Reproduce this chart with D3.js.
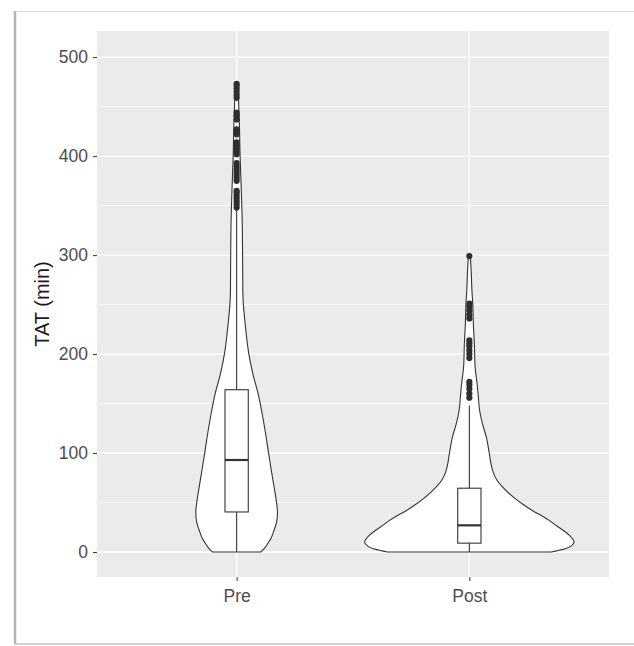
<!DOCTYPE html>
<meta charset="utf-8">
<style>
body { margin: 0; background: #fff; }
text { font-family: "Liberation Sans", Arial, sans-serif; }
</style>
<svg id="thevis" width="634" height="646"></svg>
<script src="https://cdn.jsdelivr.net/npm/d3@7/dist/d3.min.js"></script>
<script>
// violin + boxplot of turnaround time, pre vs post
var categories = ["Pre", "Post"];
var yTicks = [0, 100, 200, 300, 400, 500];
var yMinor = [50, 150, 250, 350, 450];

// density outlines (TAT value, relative density)
var preTAT     = [0, 4, 9, 15, 22, 30, 40, 50, 60, 75, 100, 120, 143, 160, 180, 201, 230, 254, 280, 310, 340, 370, 400, 430, 455, 473];
var preDensity = [0.229, 0.267, 0.300, 0.333, 0.357, 0.381, 0.390, 0.381, 0.367, 0.343, 0.305, 0.276, 0.238, 0.205, 0.155, 0.115, 0.082, 0.062, 0.058, 0.056, 0.052, 0.043, 0.033, 0.027, 0.019, 0.010];
var postTAT     = [0, 3, 6, 10, 14, 18, 22, 26, 32, 37, 42, 48, 54, 60, 66, 72, 80, 90, 100, 116, 130, 143, 160, 171, 187, 210, 231, 250, 265, 280, 299];
var postDensity = [0.781, 0.905, 0.971, 1.0, 0.981, 0.943, 0.895, 0.838, 0.762, 0.686, 0.600, 0.514, 0.438, 0.371, 0.314, 0.267, 0.229, 0.205, 0.190, 0.162, 0.124, 0.098, 0.083, 0.073, 0.055, 0.048, 0.038, 0.033, 0.024, 0.019, 0.010];

// box stats: [lower whisker, Q1, median, Q3, upper whisker]
var preBox  = [0, 40.5, 93, 164, 349];
var postBox = [0, 9, 27, 64.5, 148];

var preOutliers  = [348, 351, 354, 357, 360, 363, 365, 375, 378, 381, 384, 387, 390, 393, 402, 405, 408, 411, 414, 422, 425, 427, 437, 441, 444, 459, 462, 465, 468, 471, 473];
var postOutliers = [156, 160, 165, 169, 172, 196, 200, 204, 208, 211, 214, 236, 240, 244, 248, 251, 299];

var groups = [
  {name: categories[0], tat: preTAT, dens: preDensity, box: preBox, out: preOutliers},
  {name: categories[1], tat: postTAT, dens: postDensity, box: postBox, out: postOutliers}
];

var svg = d3.select("svg");

// picture frame (screenshot card)
svg.append("rect")
    .attr("x", 14.5).attr("y", 11.5)
    .attr("width", 624).attr("height", 632.5)
    .attr("fill", "#fff")
    .attr("stroke", "#dcdcdc");
svg.append("line")
    .attr("x1", 15).attr("x2", 15).attr("y1", 11).attr("y2", 644)
    .attr("stroke", "#b5b5b5").attr("stroke-width", 2.5);
svg.append("line")
    .attr("x1", 14).attr("x2", 634).attr("y1", 644).attr("y2", 644)
    .attr("stroke", "#c8c8c8").attr("stroke-width", 1.5);

var panel = {left: 97, right: 609, top: 31, bottom: 577};

var x = d3.scalePoint()
    .domain(categories)
    .range([panel.left, panel.right])
    .padding(0.6);

var y = d3.scaleLinear()
    .domain([-25.2, 526.4])
    .range([panel.bottom, panel.top]);

var halfWidth = d3.scaleLinear().domain([0, 1]).range([0, 0.45 * x.step()]);
var boxHalf = 0.05 * x.step();

// panel background and grid
svg.append("rect")
    .attr("x", panel.left).attr("y", panel.top)
    .attr("width", panel.right - panel.left).attr("height", panel.bottom - panel.top)
    .attr("fill", "#ebebeb");

svg.append("g").selectAll("line")
    .data(yMinor)
  .enter().append("line")
    .attr("x1", panel.left).attr("x2", panel.right)
    .attr("y1", function(d) { return y(d); }).attr("y2", function(d) { return y(d); })
    .attr("stroke", "#fff").attr("stroke-width", 0.7);

svg.append("g").selectAll("line")
    .data(yTicks)
  .enter().append("line")
    .attr("x1", panel.left).attr("x2", panel.right)
    .attr("y1", function(d) { return y(d); }).attr("y2", function(d) { return y(d); })
    .attr("stroke", "#fff").attr("stroke-width", 1.4);

svg.append("g").selectAll("line")
    .data(categories)
  .enter().append("line")
    .attr("x1", function(d) { return x(d); }).attr("x2", function(d) { return x(d); })
    .attr("y1", panel.top).attr("y2", panel.bottom)
    .attr("stroke", "#fff").attr("stroke-width", 1.4);

// violins
var g = svg.append("g").selectAll("g")
    .data(groups)
  .enter().append("g");

g.append("path")
    .attr("d", function(grp) {
      var pts = grp.tat.map(function(v, i) { return {v: v, d: grp.dens[i]}; });
      var cx = x(grp.name);
      return d3.area()
          .y(function(p) { return y(p.v); })
          .x0(function(p) { return cx - halfWidth(p.d); })
          .x1(function(p) { return cx + halfWidth(p.d); })
          .curve(d3.curveCatmullRom.alpha(0.5))(pts);
    })
    .attr("fill", "#fff")
    .attr("stroke", "#333")
    .attr("stroke-width", 1.1);

// whiskers
g.append("line")
    .attr("x1", function(grp) { return x(grp.name); }).attr("x2", function(grp) { return x(grp.name); })
    .attr("y1", function(grp) { return y(grp.box[3]); }).attr("y2", function(grp) { return y(grp.box[4]); })
    .attr("stroke", "#333").attr("stroke-width", 1.1);
g.append("line")
    .attr("x1", function(grp) { return x(grp.name); }).attr("x2", function(grp) { return x(grp.name); })
    .attr("y1", function(grp) { return y(grp.box[0]); }).attr("y2", function(grp) { return y(grp.box[1]); })
    .attr("stroke", "#333").attr("stroke-width", 1.1);

// boxes
g.append("rect")
    .attr("x", function(grp) { return x(grp.name) - boxHalf; })
    .attr("width", 2 * boxHalf)
    .attr("y", function(grp) { return y(grp.box[3]); })
    .attr("height", function(grp) { return y(grp.box[1]) - y(grp.box[3]); })
    .attr("fill", "#fff")
    .attr("stroke", "#333").attr("stroke-width", 1.1);

g.append("line")  // median
    .attr("x1", function(grp) { return x(grp.name) - boxHalf; })
    .attr("x2", function(grp) { return x(grp.name) + boxHalf; })
    .attr("y1", function(grp) { return y(grp.box[2]); }).attr("y2", function(grp) { return y(grp.box[2]); })
    .attr("stroke", "#333").attr("stroke-width", 2.2);

// outliers
g.selectAll("circle")
    .data(function(grp) { return grp.out.map(function(v) { return {name: grp.name, v: v}; }); })
  .enter().append("circle")
    .attr("cx", function(d) { return x(d.name); })
    .attr("cy", function(d) { return y(d.v); })
    .attr("r", 3.1)
    .attr("fill", "#2e2e2e");

// axes
var yAxis = svg.append("g")
    .attr("transform", "translate(" + panel.left + ",0)")
    .call(d3.axisLeft(y).tickValues(yTicks).tickSize(4).tickPadding(5));
var xAxis = svg.append("g")
    .attr("transform", "translate(0," + panel.bottom + ")")
    .call(d3.axisBottom(x).tickSize(4).tickPadding(9));

[yAxis, xAxis].forEach(function(ax) {
  ax.select(".domain").remove();
  ax.selectAll(".tick line").attr("stroke", "#333").attr("stroke-width", 1);
  ax.selectAll(".tick text")
      .attr("fill", "#4d4d4d")
      .attr("font-size", 17.5)
      .attr("font-family", "'Liberation Sans', Arial, sans-serif");
});

svg.append("text")
    .attr("transform", "translate(49," + (panel.top + panel.bottom) / 2 + ") rotate(-90)")
    .attr("text-anchor", "middle")
    .attr("font-size", 20)
    .attr("fill", "#1a1a1a")
    .text("TAT (min)");
</script>
